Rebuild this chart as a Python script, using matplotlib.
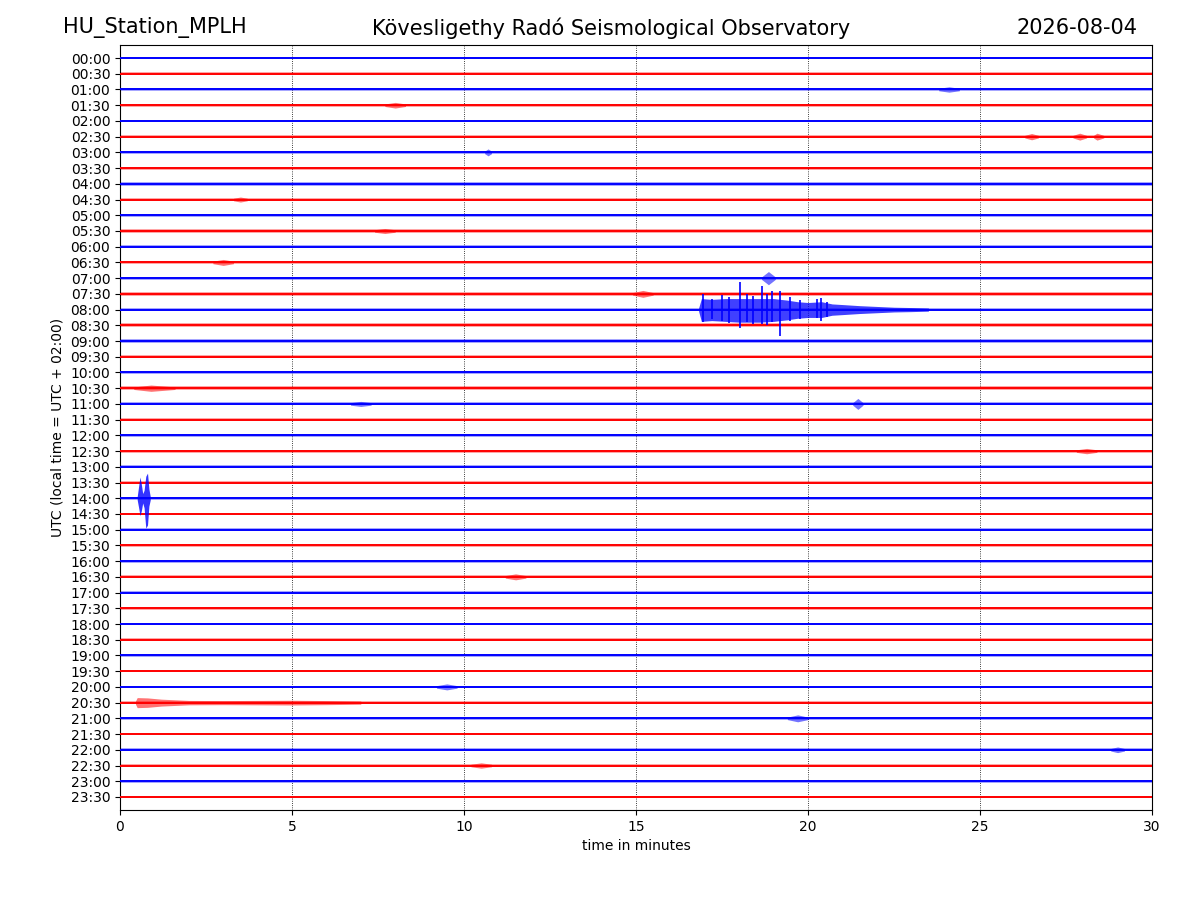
import matplotlib
matplotlib.use("Agg")
import matplotlib.pyplot as plt

row_labels = [
    "00:00", "00:30", "01:00", "01:30", "02:00", "02:30", "03:00", "03:30",
    "04:00", "04:30", "05:00", "05:30", "06:00", "06:30", "07:00", "07:30",
    "08:00", "08:30", "09:00", "09:30", "10:00", "10:30", "11:00", "11:30",
    "12:00", "12:30", "13:00", "13:30", "14:00", "14:30", "15:00", "15:30",
    "16:00", "16:30", "17:00", "17:30", "18:00", "18:30", "19:00", "19:30",
    "20:00", "20:30", "21:00", "21:30", "22:00", "22:30", "23:00", "23:30",
]
trace_colors = ["blue", "red"]

# background noise half-width of each trace (in trace spacings)
noise_level = [
    0.09, 0.09, 0.10, 0.10, 0.09, 0.10, 0.09, 0.10,
    0.11, 0.10, 0.10, 0.10, 0.10, 0.10, 0.10, 0.11,
    0.11, 0.12, 0.11, 0.10, 0.10, 0.11, 0.10, 0.10,
    0.10, 0.10, 0.10, 0.10, 0.10, 0.09, 0.10, 0.09,
    0.09, 0.09, 0.09, 0.08, 0.09, 0.08, 0.09, 0.08,
    0.08, 0.10, 0.10, 0.08, 0.09, 0.08, 0.09, 0.08,
]

# large event on the 08:00 trace: envelope
quake_row = "08:00"
quake_t = [16.82, 16.9, 17.2, 17.6, 18.0, 18.6, 19.0, 19.4, 19.7, 20.0, 20.4,
           20.7, 21.0, 21.5, 22.0, 22.5, 23.0, 23.5]
quake_up = [0.1, 0.7, 0.65, 0.7, 0.7, 0.7, 0.7, 0.6, 0.5, 0.45, 0.5,
            0.36, 0.32, 0.25, 0.2, 0.15, 0.13, 0.1]
quake_down = [0.1, 0.75, 0.7, 0.75, 0.8, 0.8, 0.75, 0.65, 0.55, 0.5, 0.5,
              0.36, 0.32, 0.25, 0.2, 0.15, 0.13, 0.1]
# large event on the 08:00 trace: individual peaks
peak_t = [16.96, 17.2, 17.49, 17.71, 18.02, 18.22, 18.41, 18.65, 18.8, 18.94,
          19.2, 19.48, 19.77, 20.25, 20.37, 20.55]
peak_up = [1.0, 0.7, 0.9, 0.8, 1.78, 1.0, 0.85, 1.53, 1.0, 1.2,
           1.2, 0.8, 0.6, 0.65, 0.74, 0.5]
peak_down = [0.8, 0.6, 0.75, 0.85, 1.2, 0.8, 0.9, 0.9, 1.0, 0.8,
             1.65, 0.7, 0.6, 0.55, 0.7, 0.45]

# local burst on the 14:00 trace
burst_row = "14:00"
burst_t = [0.50, 0.55, 0.58, 0.62, 0.66, 0.70, 0.75, 0.80, 0.84, 0.88]
burst_up = [0.1, 0.9, 1.35, 0.9, 0.3, 0.5, 1.4, 1.6, 0.6, 0.1]
burst_down = [0.1, 0.7, 1.1, 0.8, 0.3, 0.6, 1.9, 1.7, 0.5, 0.1]

# small event with coda on the 20:30 trace
coda_row = "20:30"
coda_t = [0.45, 0.5, 0.8, 1.2, 1.6, 2.0, 3.0, 4.0, 5.0, 6.0, 7.0]
coda_amp = [0.1, 0.32, 0.3, 0.22, 0.18, 0.14, 0.13, 0.14, 0.15, 0.13, 0.1]

# short wavelets elsewhere
blob_rows = ["01:00", "01:30", "02:30", "02:30", "02:30", "03:00", "06:30", "07:00",
             "07:30", "10:30", "11:00", "11:00", "12:30", "16:30", "20:00", "21:00",
             "22:00", "22:30", "04:30", "05:30"]
blob_start = [23.8, 7.7, 26.3, 27.7, 28.3, 10.6, 2.7, 18.65,
              14.9, 0.4, 21.3, 6.7, 27.8, 11.2, 9.2, 19.4,
              28.8, 10.2, 3.3, 7.4]
blob_peak = [24.1, 8.0, 26.5, 27.9, 28.4, 10.7, 3.0, 18.85,
             15.2, 0.9, 21.45, 7.0, 28.1, 11.5, 9.5, 19.7,
             29.0, 10.5, 3.5, 7.7]
blob_end = [24.4, 8.3, 26.7, 28.1, 28.6, 10.8, 3.3, 19.05,
            15.5, 1.6, 21.6, 7.3, 28.4, 11.8, 9.8, 20.0,
            29.2, 10.8, 3.7, 8.0]
blob_amp = [0.17, 0.18, 0.2, 0.22, 0.22, 0.22, 0.19, 0.42,
            0.22, 0.2, 0.35, 0.16, 0.17, 0.19, 0.19, 0.22,
            0.18, 0.17, 0.16, 0.16]

x_ticks = [0, 5, 10, 15, 20, 25, 30]

fig = plt.figure(figsize=(12, 9), dpi=100)
ax = fig.add_axes([0.1, 0.1, 0.86, 0.85])

row_pos = {lab: -i for i, lab in enumerate(row_labels)}
row_col = {lab: trace_colors[i % 2] for i, lab in enumerate(row_labels)}

# background noise: light fringe + solid core
for i, lab in enumerate(row_labels):
    y0 = row_pos[lab]
    w = noise_level[i]
    ax.fill_between([0, 30], [y0 - w, y0 - w], [y0 + w, y0 + w],
                    color=row_col[lab], alpha=0.35, linewidth=0, zorder=2)
    ax.plot([0, 30], [y0, y0], color=row_col[lab], linewidth=1.4, zorder=3)


def draw_envelope(lab, t, up, down, alpha=0.7):
    y0 = row_pos[lab]
    ax.fill_between(t, [y0 - d for d in down], [y0 + u for u in up],
                    color=row_col[lab], alpha=alpha, linewidth=0, zorder=4)


draw_envelope(quake_row, quake_t, quake_up, quake_down, alpha=0.75)
y_q = row_pos[quake_row]
ax.vlines(peak_t, [y_q - d for d in peak_down], [y_q + u for u in peak_up],
          color=row_col[quake_row], linewidth=1.2, zorder=5)
draw_envelope(burst_row, burst_t, burst_up, burst_down, alpha=0.8)
draw_envelope(coda_row, coda_t, coda_amp, coda_amp, alpha=0.55)

for lab, s, p, e, a in zip(blob_rows, blob_start, blob_peak, blob_end, blob_amp):
    draw_envelope(lab, [s, p, e], [0.08, a, 0.08], [0.08, a, 0.08], alpha=0.55)

# axes styling
ax.set_xlim(0, 30)
ax.set_ylim(-47.83, 0.83)
ax.set_xticks(x_ticks)
ax.set_yticks([row_pos[lab] for lab in row_labels])
ax.set_yticklabels(row_labels)
ax.xaxis.grid(True, linestyle=":", color="black", linewidth=0.6)
ax.set_axisbelow(True)
ax.set_xlabel("time in minutes")
ax.set_ylabel("UTC (local time = UTC + 02:00)")

fig.text(0.0525, 0.969, "HU_Station_MPLH", fontsize=15, ha="left", va="center")
fig.text(0.509, 0.969, "Kövesligethy Radó Seismological Observatory", fontsize=15,
         ha="center", va="center")
fig.text(0.9475, 0.969, "2026-08-04", fontsize=15, ha="right", va="center")

fig.savefig("out.png", dpi=100)
